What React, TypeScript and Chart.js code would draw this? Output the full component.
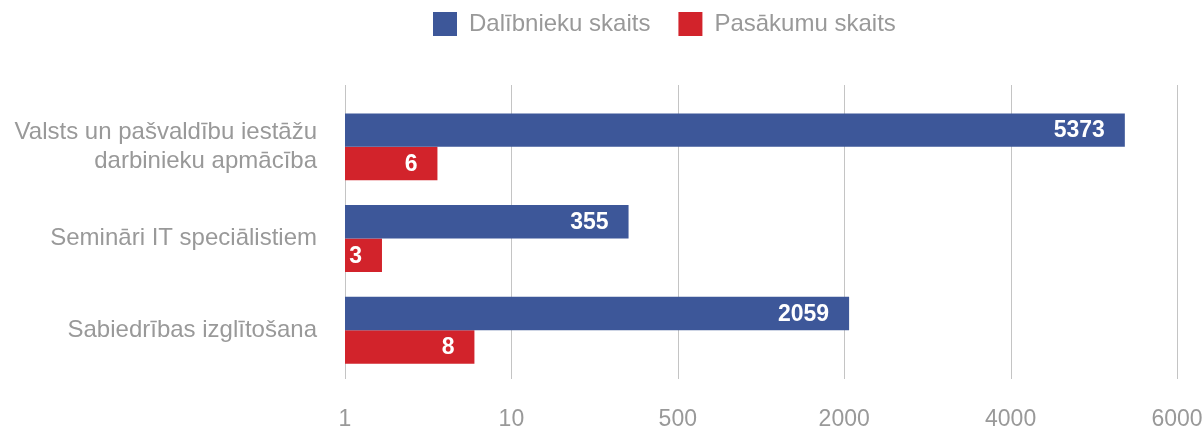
import React, { useEffect, useRef } from 'react';
import { Chart, LinearScale, registerables } from 'chart.js';

const CATEGORIES: (string | string[])[] = [
  ['Valsts un pašvaldību iestāžu', 'darbinieku apmācība'],
  'Semināri IT speciālistiem',
  'Sabiedrības izglītošana',
];
const SERIES_NAMES = ['Dalībnieku skaits', 'Pasākumu skaits'];
const PARTICIPANTS = [5373, 355, 2059];
const EVENTS = [6, 3, 8];
const X_TICKS = [1, 10, 500, 2000, 4000, 6000];

const FONT = "'Liberation Sans', Arial, Helvetica, sans-serif";
const BLUE = '#3d5799';
const RED = '#d2232b';
const GRAY_TEXT = '#999999';
const GRID = '#c4c4c4';

class PiecewiseScale extends LinearScale {
  static id = 'piecewise';
  static defaults = LinearScale.defaults;
  determineDataLimits() {
    this.min = X_TICKS[0];
    this.max = X_TICKS[X_TICKS.length - 1];
  }
  buildTicks() {
    return X_TICKS.map((value) => ({ value }));
  }
  getPixelForValue(value: any) {
    if (value === null || value === undefined || isNaN(value)) return NaN;
    const n = X_TICKS.length - 1;
    if (value <= X_TICKS[0]) return this.getPixelForDecimal(0);
    if (value >= X_TICKS[n]) return this.getPixelForDecimal(1);
    let i = 0;
    while (value > X_TICKS[i + 1]) i++;
    const frac = (i + (value - X_TICKS[i]) / (X_TICKS[i + 1] - X_TICKS[i])) / n;
    return this.getPixelForDecimal(frac);
  }
  getValueForPixel(pixel: number) {
    const n = X_TICKS.length - 1;
    const d = Math.min(Math.max(this.getDecimalForPixel(pixel), 0), 1) * n;
    const i = Math.min(Math.floor(d), n - 1);
    return X_TICKS[i] + (d - i) * (X_TICKS[i + 1] - X_TICKS[i]);
  }
}

Chart.register(...registerables, PiecewiseScale);

const LEGEND_START_X = 433;
const LEGEND_TOP = 12;
const LEGEND_GAP = 28;
const AREA_TOP = 101;

const layoutPlugin = {
  id: 'layoutTweaks',
  beforeInit(chart: any) {
    const legend = chart.legend;
    if (!legend) return;
    const origFit = legend.fit;
    legend.fit = function () {
      origFit.call(this);
      this.height = AREA_TOP;
    };
  },
  afterLayout(chart: any) {
    const l = chart.legend;
    if (!l || !l.lineWidths) return;
    const padding = LEGEND_GAP;
    const curX = (l.left + padding + l.right - l.lineWidths[0]) / 2;
    const dx = LEGEND_START_X - curX;
    l.left += dx;
    l.right += dx;
    const dy = LEGEND_TOP - (l.top + padding);
    l.top += dy;
    l.bottom += dy;
  },
};

const gridPlugin = {
  id: 'xGrid',
  beforeDatasetsDraw(chart: any) {
    const { ctx, chartArea } = chart;
    const xs = chart.scales.x;
    ctx.save();
    ctx.strokeStyle = GRID;
    ctx.lineWidth = 1;
    xs.ticks.forEach((_: any, i: number) => {
      const x = Math.round(xs.getPixelForTick(i)) + 0.5;
      ctx.beginPath();
      ctx.moveTo(x, chartArea.top - 16);
      ctx.lineTo(x, chartArea.bottom + 3);
      ctx.stroke();
    });
    ctx.restore();
  },
};

const labelPlugin = {
  id: 'barLabels',
  afterDatasetsDraw(chart: any) {
    const ctx = chart.ctx;
    ctx.save();
    ctx.font = `bold 23px ${FONT}`;
    ctx.fillStyle = '#ffffff';
    ctx.textAlign = 'right';
    ctx.textBaseline = 'middle';
    chart.data.datasets.forEach((ds: any, di: number) => {
      chart.getDatasetMeta(di).data.forEach((bar: any, i: number) => {
        ctx.fillText(String(ds.data[i]), bar.x - 20, bar.y + 1);
      });
    });
    ctx.restore();
  },
};

export default function App() {
  const ref = useRef<HTMLCanvasElement>(null);
  useEffect(() => {
    if (!ref.current) return;
    const chart = new Chart(ref.current, {
      type: 'bar',
      data: {
        labels: CATEGORIES as any,
        datasets: [
          {
            label: SERIES_NAMES[0],
            data: PARTICIPANTS,
            backgroundColor: BLUE,
            borderWidth: 0,
            base: 1,
          } as any,
          {
            label: SERIES_NAMES[1],
            data: EVENTS,
            backgroundColor: RED,
            borderWidth: 0,
            base: 1,
          } as any,
        ],
      },
      options: {
        indexAxis: 'y',
        responsive: false,
        animation: false,
        categoryPercentage: 0.73,
        barPercentage: 1,
        layout: { padding: { left: 0, right: 27, top: 0, bottom: 0 } },
        plugins: {
          legend: {
            position: 'top',
            align: 'center',
            labels: {
              boxWidth: 24,
              boxHeight: 24,
              padding: LEGEND_GAP,
              color: GRAY_TEXT,
              font: { family: FONT, size: 24 },
            },
          },
          tooltip: { enabled: false },
        },
        scales: {
          x: {
            type: 'piecewise' as any,
            position: 'bottom',
            min: 1,
            max: 6000,
            grid: { display: false, drawTicks: false, tickLength: 0 },
            border: { display: false },
            ticks: {
              color: GRAY_TEXT,
              font: { family: FONT, size: 23, lineHeight: 1 },
              padding: 32,
              maxRotation: 0,
              autoSkip: false,
              callback: (v: any) => String(v),
            },
            afterFit: (s: any) => {
              s.height = 54;
              s.paddingLeft = 0;
              s.paddingRight = 0;
            },
          } as any,
          y: {
            type: 'category',
            position: 'left',
            grid: { display: false, drawTicks: false, tickLength: 0 },
            border: { display: false },
            ticks: {
              color: GRAY_TEXT,
              font: { family: FONT, size: 24, lineHeight: 1.2 },
              padding: 28,
            },
            afterFit: (s: any) => {
              s.width = 345;
              s.paddingTop = 0;
              s.paddingBottom = 0;
            },
          },
        },
      },
      plugins: [layoutPlugin, gridPlugin, labelPlugin],
    });
    return () => chart.destroy();
  }, []);
  return (
    <div style={{ position: 'fixed', left: 0, top: 0, width: 1204, height: 430, background: '#fff' }}>
      <canvas ref={ref} width={1204} height={430} />
    </div>
  );
}
